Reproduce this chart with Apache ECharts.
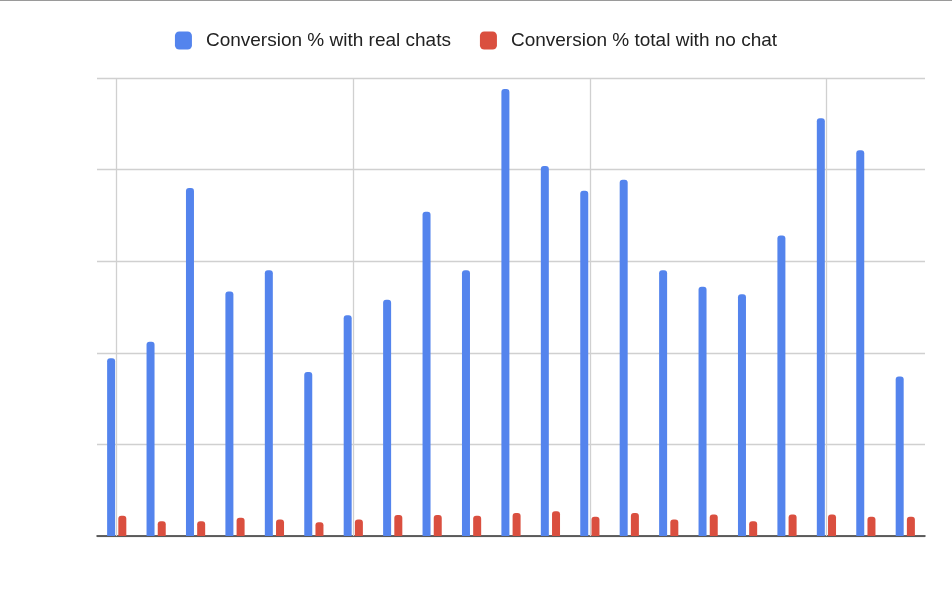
<!DOCTYPE html>
<html>
<head>
<meta charset="utf-8">
<title>Conversion chart</title>
<script src="https://cdn.jsdelivr.net/npm/echarts@6/dist/echarts.min.js"></script>
<style>
	html, body { margin: 0; padding: 0; background: #fff; }
	#main { width: 952px; height: 594px; }
</style>
</head>
<body>
<div id="main"></div>
<script>
var categories = ["1", "2", "3", "4", "5", "6", "7", "8", "9", "10", "11",
	"12", "13", "14", "15", "16", "17", "18", "19", "20", "21"];

var realChats = [1.94, 2.12, 3.80, 2.67, 2.90, 1.79, 2.41, 2.58, 3.54, 2.90, 4.88,
	4.04, 3.77, 3.89, 2.90, 2.72, 2.64, 3.28, 4.56, 4.21, 1.74];

var noChat = [0.22, 0.16, 0.16, 0.20, 0.18, 0.15, 0.18, 0.23, 0.23, 0.22, 0.25,
	0.27, 0.21, 0.25, 0.18, 0.235, 0.16, 0.235, 0.235, 0.21, 0.21];

// vertical gridlines sit on every 6th category
var majorCategories = ["1", "7", "13", "19"];

var seriesNames = ["Conversion % with real chats", "Conversion % total with no chat"];

var chart = echarts.init(document.getElementById('main'), null, {renderer: 'canvas'});

var option = {
	animation: false,
	color: ['#5484ed', '#da4f3f'],
	textStyle: {
		fontFamily: 'Liberation Sans, Arial, sans-serif'
	},
	graphic: [{
		type: 'rect',
		shape: {x: 0, y: 0, width: 952, height: 1},
		style: {fill: '#9a9a9a'}
	}],
	legend: {
		top: 26,
		left: 'center',
		itemWidth: 17,
		itemHeight: 18,
		itemGap: 29,
		icon: 'roundRect',
		textStyle: {
			fontSize: 19,
			color: '#222',
			padding: [0, 0, 0, 9]
		},
		data: seriesNames
	},
	grid: {
		left: 97,
		right: 27,
		top: 78,
		bottom: 58,
		containLabel: false
	},
	xAxis: {
		type: 'category',
		data: categories,
		axisLine: {
			lineStyle: {color: '#333', width: 1.5}
		},
		axisTick: {show: false},
		axisLabel: {show: false},
		splitLine: {show: false}
	},
	yAxis: {
		type: 'value',
		min: 0,
		max: 5,
		interval: 1,
		axisLine: {show: false},
		axisTick: {show: false},
		axisLabel: {show: false},
		splitLine: {
			lineStyle: {color: '#d0d0d0', width: 1.3}
		}
	},
	series: [{
		name: seriesNames[0],
		type: 'bar',
		data: realChats,
		barWidth: 8,
		barGap: '40%',
		itemStyle: {
			borderRadius: [3, 3, 0, 0]
		}
	}, {
		name: seriesNames[1],
		type: 'bar',
		data: noChat,
		barWidth: 8,
		barGap: '40%',
		itemStyle: {
			borderRadius: [3, 3, 0, 0]
		}
	}, {
		// empty helper series, only carries the vertical gridlines
		name: 'grid',
		type: 'line',
		data: [],
		z: 1,
		markLine: {
			silent: true,
			symbol: 'none',
			label: {show: false},
			lineStyle: {color: '#d0d0d0', type: 'solid', width: 1.3},
			data: majorCategories.map(function(c){
				return {xAxis: c};
			})
		}
	}]
};

chart.setOption(option);
</script>
</body>
</html>
